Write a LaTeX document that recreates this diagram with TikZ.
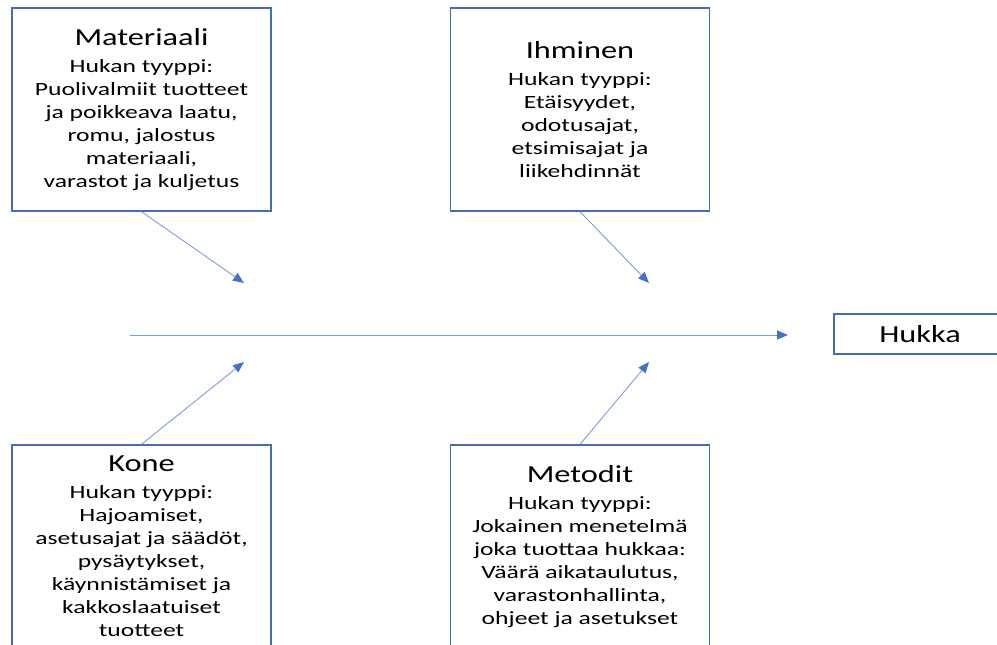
\documentclass[tikz,border=0pt]{standalone}
\usepackage{fontspec}
\setmainfont{Carlito}[FakeStretch=1.32]
\newfontfamily\bodyfamily{Carlito}[FakeStretch=1.37]
\usetikzlibrary{arrows.meta}
\definecolor{boxblue}{RGB}{72,108,178}
\definecolor{lineblue}{RGB}{125,156,218}
\definecolor{tipblue}{RGB}{68,114,196}
\newcommand{\headfont}{\rmfamily\fontsize{24.5}{28}\selectfont}
\tikzset{
  causebox/.style={draw=boxblue, line width=1.4pt, fill=white,
    minimum width=259pt, minimum height=203pt, inner sep=0pt,
    align=center, font=\bodyfamily\fontsize{18.7}{23}\selectfont},
  effectbox/.style={draw=boxblue, line width=1.4pt, fill=white,
    minimum width=172pt, minimum height=40pt, inner sep=0pt,
    font=\headfont},
  bone/.style={draw=lineblue, line width=0.9pt,
    -{Triangle[length=11pt, width=9pt, color=tipblue]}}
}
\begin{document}
\begin{tikzpicture}[x=1pt, y=-1pt]
\useasboundingbox (0,0) rectangle (997,645);
\clip (0,0) rectangle (997,645);

% cause boxes
\node[causebox] (mat) at (141.5,109.5)
  {{\headfont Materiaali}\\[4pt]Hukan tyyppi:\\Puolivalmiit tuotteet\\ja poikkeava laatu,\\romu, jalostus\\materiaali,\\varastot ja kuljetus};
\node[causebox] (ihm) at (580,109.5)
  {{\headfont Ihminen}\\[4pt]Hukan tyyppi:\\Etäisyydet,\\odotusajat,\\etsimisajat ja\\liikehdinnät};
\node[causebox] (kone) at (141.5,546.5)
  {{\headfont Kone}\\[4pt]Hukan tyyppi:\\Hajoamiset,\\asetusajat ja säädöt,\\pysäytykset,\\käynnistämiset ja\\kakkoslaatuiset\\tuotteet};
\node[causebox] (met) at (580,546.5)
  {{\headfont Metodit}\\[4pt]Hukan tyyppi:\\Jokainen menetelmä\\joka tuottaa hukkaa:\\Väärä aikataulutus,\\varastonhallinta,\\ohjeet ja asetukset};

% effect box
\node[effectbox] (hukka) at (920,334) {Hukka};

% spine and branch end points
\coordinate (spineA) at (130,335);
\coordinate (spineB) at (788,335);
\coordinate (matEnd) at (244,283);
\coordinate (ihmEnd) at (649,283);
\coordinate (koneEnd) at (244,362);
\coordinate (metEnd) at (649,362);

\draw[bone] (spineA) -- (spineB);
\draw[bone] (mat.south) -- (matEnd);
\draw[bone] (ihm.south) -- (ihmEnd);
\draw[bone] (kone.north) -- (koneEnd);
\draw[bone] (met.north) -- (metEnd);
\end{tikzpicture}
\end{document}
